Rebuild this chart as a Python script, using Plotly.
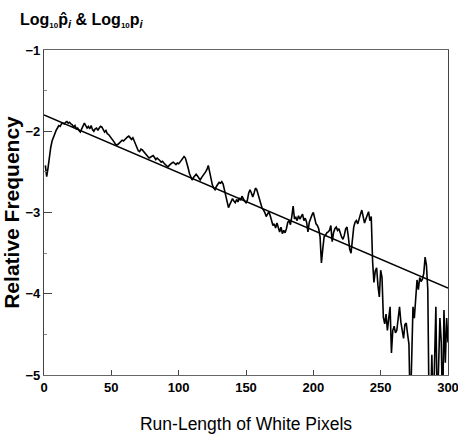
import plotly.graph_objects as go

# Run length (pixels)
RUN_LENGTH = list(range(1, 301))

# log10 relative frequency, observed (values below -5 are zero counts, clipped)
LOG_FREQ = [
    -2.42, -2.56, -2.45, -2.30, -2.20, -2.12, -2.07, -2.02, -1.99, -1.96,
    -1.93, -1.94, -1.91, -1.90, -1.91, -1.89, -1.88, -1.90, -1.89, -1.91,
    -1.92, -1.95, -1.93, -1.97, -1.96, -1.99, -2.01, -1.97, -1.93, -1.90,
    -1.93, -1.96, -1.94, -1.97, -1.93, -1.98, -2.00, -1.97, -1.96, -1.99,
    -1.96, -1.94, -1.95, -1.99, -2.01, -1.99, -2.03, -2.04, -2.06, -2.08,
    -2.10, -2.13, -2.16, -2.17, -2.16, -2.14, -2.13, -2.11, -2.12, -2.10,
    -2.09, -2.07, -2.06, -2.08, -2.10, -2.08, -2.12, -2.14, -2.19, -2.24,
    -2.25, -2.22, -2.23, -2.25, -2.27, -2.29, -2.31, -2.33, -2.32, -2.31,
    -2.30, -2.32, -2.35, -2.33, -2.34, -2.36, -2.38, -2.37, -2.39, -2.41,
    -2.43, -2.44, -2.42, -2.40, -2.39, -2.38, -2.40, -2.41, -2.39, -2.40,
    -2.38, -2.36, -2.33, -2.31, -2.33, -2.38, -2.45, -2.52, -2.57, -2.60,
    -2.57, -2.55, -2.53, -2.55, -2.58, -2.60, -2.57, -2.55, -2.53, -2.50,
    -2.47, -2.42, -2.50, -2.60, -2.66, -2.70, -2.72, -2.68, -2.65, -2.63,
    -2.64, -2.62, -2.65, -2.72, -2.82, -2.88, -2.94, -2.90, -2.86, -2.83,
    -2.86, -2.88, -2.84, -2.87, -2.82, -2.85, -2.80, -2.84, -2.86, -2.88,
    -2.85, -2.76, -2.72, -2.76, -2.81, -2.76, -2.70, -2.72, -2.78, -2.84,
    -2.90, -2.95, -2.97, -3.00, -3.05, -3.02, -2.99, -3.04, -3.10, -3.16,
    -3.14, -3.19, -3.13, -3.20, -3.24, -3.18, -3.26, -3.22, -3.25, -3.20,
    -3.12, -3.10, -3.15, -3.05, -2.92, -3.08, -3.06, -3.10, -3.04, -3.08,
    -3.05, -3.02, -3.10, -3.07, -3.12, -3.24, -3.12, -3.06, -3.03, -3.00,
    -3.08, -3.14, -3.16, -3.20, -3.30, -3.62, -3.45, -3.30, -3.28, -3.25,
    -3.24, -3.22, -3.16, -3.36, -3.25, -3.20, -3.18, -3.22, -3.20, -3.26,
    -3.30, -3.33, -3.28, -3.20, -3.18, -3.30, -3.45, -3.50, -3.30, -3.18,
    -3.12, -3.10, -3.14, -3.06, -3.02, -2.97, -3.05, -3.13, -3.08, -3.02,
    -2.99, -3.10, -3.05, -3.60, -3.86, -3.72, -3.68, -3.90, -4.04, -3.71,
    -3.80, -4.29, -4.37, -4.25, -4.45, -4.30, -4.16, -4.73, -4.45, -4.40,
    -4.48, -4.45, -4.30, -4.16, -4.35, -4.45, -4.55, -4.38, -4.36, -4.50,
    -4.62, -5.50, -4.75, -4.16, -4.30, -4.00, -3.83, -3.95, -3.80, -3.85,
    -3.82, -3.75, -3.55, -3.65, -3.95, -5.50, -5.50, -4.75, -5.50, -4.85,
    -4.16, -5.50, -4.95, -4.30, -4.60, -5.50, -4.20, -4.85, -4.30, -4.60,
]

# fitted line endpoints
FIT_X = [0, 300]
FIT_Y = [-1.80, -3.93]

X_TICKS = [0, 50, 100, 150, 200, 250, 300]
Y_TICKS = [-5, -4, -3, -2, -1]

FONT = "Liberation Sans, Arial, sans-serif"

fig = go.Figure()
fig.add_trace(go.Scatter(x=RUN_LENGTH, y=LOG_FREQ, mode="lines",
                         line=dict(color="black", width=1.6), showlegend=False))
fig.add_trace(go.Scatter(x=FIT_X, y=FIT_Y, mode="lines",
                         line=dict(color="black", width=1.5), showlegend=False))

tickfont = dict(family=FONT, size=13, color="black", weight="bold")

sub = "<sub><span style='font-size:8px'>10</span></sub>"
title_text = f"Log{sub}p\u0302<sub><i>i</i></sub> &amp; Log{sub}p<sub><i>i</i></sub>"

fig.update_layout(
    width=458, height=438,
    margin=dict(l=44, r=10, t=50, b=63),
    paper_bgcolor="white", plot_bgcolor="white",
    font=dict(family=FONT, color="black"),
    xaxis=dict(range=[0, 300], tickvals=X_TICKS, ticks="inside", ticklen=5,
               tickcolor="#444", showline=True, linecolor="#666", linewidth=1.2,
               mirror=True, showgrid=False, zeroline=False, tickfont=tickfont,
               automargin=False, ticklabeloverflow="allow",
               title=dict(text="Run-Length of White Pixels",
                          font=dict(size=17.5, color="black"), standoff=24)),
    yaxis=dict(range=[-5, -1], tickvals=Y_TICKS, ticks="inside", ticklen=8,
               tickcolor="#444", showline=True, linecolor="#444", linewidth=1.2,
               mirror=True, showgrid=False, zeroline=False, tickfont=tickfont,
               automargin=False, ticklabeloverflow="allow",
               minor=dict(dtick=0.5, ticks="inside", ticklen=3, tickcolor="#888"),
               title=dict(text="Relative Frequency",
                          font=dict(size=21, color="black", weight="bold"), standoff=3)),
    annotations=[dict(
        text=title_text,
        xref="paper", yref="paper", x=-0.064, y=1.0, xanchor="left", yanchor="bottom",
        yshift=18, showarrow=False,
        font=dict(size=16, color="black", weight="bold", family=FONT))],
)

fig.write_html("out.html", config={"displayModeBar": False},
               post_script="document.body.style.margin='0';")
